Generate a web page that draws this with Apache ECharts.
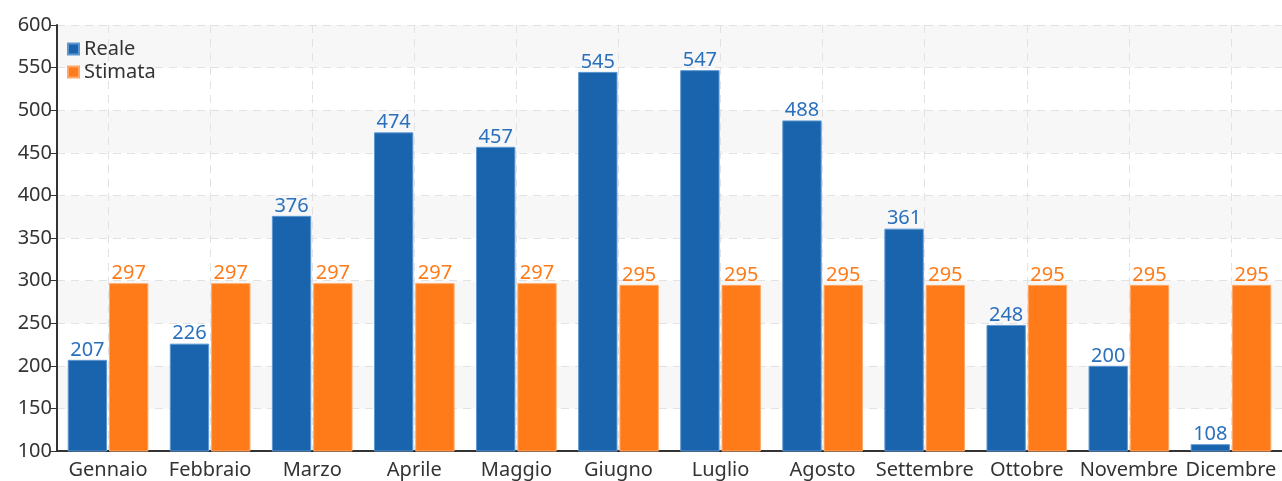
<!DOCTYPE html>
<html>
<head>
<meta charset="utf-8">
<script src="https://cdn.jsdelivr.net/npm/echarts@6/dist/echarts.min.js"></script>
<style>
  html, body { margin: 0; padding: 0; background: #fff; }
  #chart { width: 1282px; height: 481px; }
</style>
</head>
<body>
<div id="chart"></div>
<script>
// mesi
const months = ["Gennaio", "Febbraio", "Marzo", "Aprile", "Maggio", "Giugno",
  "Luglio", "Agosto", "Settembre", "Ottobre", "Novembre", "Dicembre"];
const reale = [207, 226, 376, 474, 457, 545, 547, 488, 361, 248, 200, 108];
const stimata = [297, 297, 297, 297, 297, 295, 295, 295, 295, 295, 295, 295];

const chart = echarts.init(document.getElementById("chart"));
const font = "Noto Sans";

const option = {
  animation: false,
  textStyle: { fontFamily: font },
  legend: {
    orient: "vertical",
    left: 62,
    top: 34,
    itemWidth: 11,
    itemHeight: 11,
    itemGap: 3,
    icon: "rect",
    textStyle: { fontSize: 20, color: "#333", fontFamily: font, letterSpacing: 0.5 },
    data: ["Reale", "Stimata"],
  },
  grid: {
    left: 57,
    right: 0,
    top: 25,
    bottom: 30,
  },
  xAxis: {
    type: "category",
    data: months,
    axisLine: { lineStyle: { color: "#333", width: 2 } },
    axisTick: { alignWithLabel: true, length: 4, lineStyle: { color: "#333" } },
    axisLabel: { color: "#333", fontSize: 20, margin: 9, interval: 0, letterSpacing: 0.5 },
    splitLine: {
      show: true,
      alignWithLabel: true,
      lineStyle: { color: "#e2e2e2", type: [8, 6] },
    },
  },
  yAxis: {
    type: "value",
    min: 100,
    max: 600,
    interval: 50,
    axisLine: { show: true, lineStyle: { color: "#333", width: 2 } },
    axisTick: { show: true, length: 7, lineStyle: { color: "#333" } },
    axisLabel: { color: "#333", fontSize: 20, margin: 5, letterSpacing: 0.5 },
    splitLine: { lineStyle: { color: "#e2e2e2", type: [8, 6] } },
    splitArea: { show: true, areaStyle: { color: ["#ffffff", "#f7f7f7"] } },
  },
  series: [
    {
      name: "Reale",
      type: "bar",
      data: reale,
      barGap: "5%",
      barCategoryGap: "21%",
      itemStyle: { color: "#1a63ad", borderColor: "#5d97d2", borderWidth: 1 },
      label: { show: true, position: "top", distance: 0, color: "#2a70bd", fontSize: 20, letterSpacing: 0.5 },
    },
    {
      name: "Stimata",
      type: "bar",
      data: stimata,
      itemStyle: { color: "#ff7a18", borderColor: "#ffa868", borderWidth: 1 },
      label: { show: true, position: "top", distance: 0, color: "#ff7a18", fontSize: 20, letterSpacing: 0.5 },
    },
  ],
};

chart.setOption(option);
</script>
</body>
</html>
